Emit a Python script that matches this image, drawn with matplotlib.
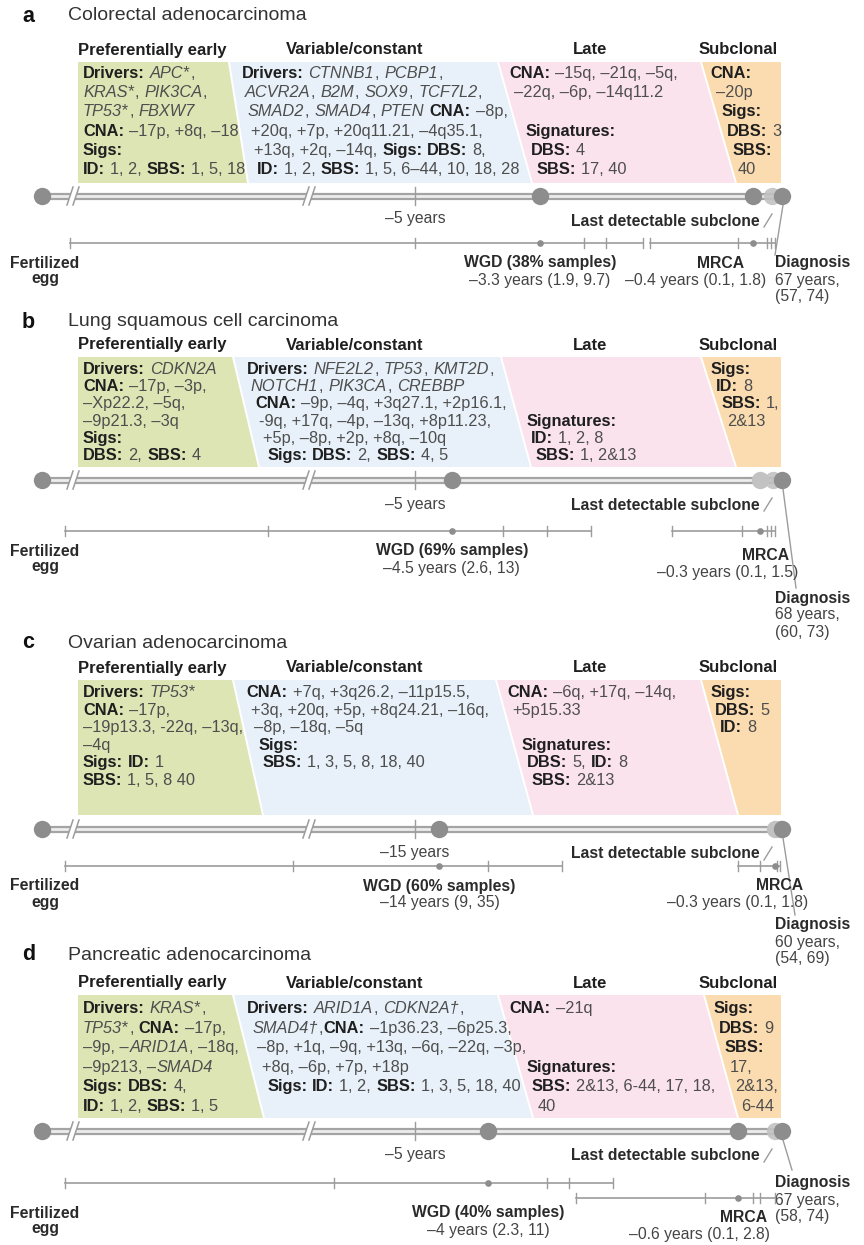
import re
import numpy as np
import matplotlib
matplotlib.use("Agg")
import matplotlib.pyplot as plt
from matplotlib.font_manager import FontProperties
from matplotlib.patches import Polygon

# ---------------- data ----------------
panel_letters = ["a", "b", "c", "d"]
cancer_types = ["Colorectal adenocarcinoma", "Lung squamous cell carcinoma",
                "Ovarian adenocarcinoma", "Pancreatic adenocarcinoma"]
phase_names = ["Preferentially early", "Variable/constant", "Late", "Subclonal"]

# **bold**, _italic_, rest regular
early_lines = [
    ["**Drivers:** _APC*_,", "_KRAS*_, _PIK3CA_,", "_TP53*_, _FBXW7_",
     "**CNA:** –17p, +8q, –18", "**Sigs:**", "**ID:** 1, 2, **SBS:** 1, 5, 18"],
    ["**Drivers:** _CDKN2A_", "**CNA:** –17p, –3p,", "–Xp22.2, –5q,",
     "–9p21.3, –3q", "**Sigs:**", "**DBS:** 2, **SBS:** 4"],
    ["**Drivers:** _TP53*_", "**CNA:** –17p,", "–19p13.3, -22q, –13q,",
     "–4q", "**Sigs:** **ID:** 1", "**SBS:** 1, 5, 8 40"],
    ["**Drivers:** _KRAS*_,", "_TP53*_, **CNA:** –17p,", "–9p, –_ARID1A_, –18q,",
     "–9p213, –_SMAD4_", "**Sigs:** **DBS:** 4,", "**ID:** 1, 2, **SBS:** 1, 5"],
]
variable_lines = [
    ["**Drivers:** _CTNNB1_, _PCBP1_,", "_ACVR2A_, _B2M_, _SOX9_, _TCF7L2_,",
     "_SMAD2_, _SMAD4_, _PTEN_ **CNA:** –8p,", "+20q, +7p, +20q11.21, –4q35.1,",
     "+13q, +2q, –14q, **Sigs:** **DBS:** 8,", "**ID:** 1, 2, **SBS:** 1, 5, 6–44, 10, 18, 28"],
    ["**Drivers:** _NFE2L2_, _TP53_, _KMT2D_,", "_NOTCH1_, _PIK3CA_, _CREBBP_",
     "**CNA:** –9p, –4q, +3q27.1, +2p16.1,", "-9q, +17q, –4p, –13q, +8p11.23,",
     "+5p, –8p, +2p, +8q, –10q", "**Sigs:** **DBS:** 2, **SBS:** 4, 5"],
    ["**CNA:** +7q, +3q26.2, –11p15.5,", "+3q, +20q, +5p, +8q24.21, –16q,",
     "–8p, –18q, –5q", "**Sigs:**", "**SBS:** 1, 3, 5, 8, 18, 40"],
    ["**Drivers:** _ARID1A_, _CDKN2A†_,", "_SMAD4†_,**CNA:** –1p36.23, –6p25.3,",
     "–8p, +1q, –9q, +13q, –6q, –22q, –3p,", "+8q, –6p, +7p, +18p",
     "**Sigs:** **ID:** 1, 2, **SBS:** 1, 3, 5, 18, 40"],
]
late_lines = [
    ["**CNA:** –15q, –21q, –5q,", "–22q, –6p, –14q11.2", "",
     "**Signatures:**", "**DBS:** 4", "**SBS:** 17, 40"],
    ["", "", "", "**Signatures:**", "**ID:** 1, 2, 8", "**SBS:** 1, 2&13"],
    ["**CNA:** –6q, +17q, –14q,", "+5p15.33", "",
     "**Signatures:**", "**DBS:** 5, **ID:** 8", "**SBS:** 2&13"],
    ["**CNA:** –21q", "", "", "**Signatures:**", "**SBS:** 2&13, 6-44, 17, 18,", "40"],
]
subclonal_lines = [
    ["**CNA:**", "–20p", "**Sigs:**", "**DBS:** 3", "**SBS:**", "40"],
    ["**Sigs:**", "**ID:** 8", "**SBS:** 1,", "2&13"],
    ["**Sigs:**", "**DBS:** 5", "**ID:** 8"],
    ["**Sigs:**", "**DBS:** 9", "**SBS:**", "17,", "2&13,", "6-44"],
]

ref_years = [5, 5, 15, 5]                 # labelled tick on the timeline
wgd_pct = [38, 69, 60, 40]
wgd_median = [3.3, 4.5, 14, 4]            # years before diagnosis
wgd_ci = [(1.9, 9.7), (2.6, 13), (9, 35), (2.3, 11)]
wgd_ticks = [[5.0, 2.7, 2.4], [7.0, 3.8, 3.2], [20, 12], [6.1, 3.2, 2.9]]
mrca_median = [0.4, 0.3, 0.3, 0.6]
mrca_ci = [(0.1, 1.8), (0.1, 1.5), (0.1, 1.8), (0.1, 2.8)]
mrca_ticks = [[0.6, 0.2, 0.15], [0.55, 0.2, 0.15], [0.9, 0.2], [1.05, 0.4, 0.3]]
subclone_years = [0.13, 0.12, 0.08, 0.1]
diag_age = [67, 68, 60, 67]
diag_ci = [(57, 74), (60, 73), (54, 69), (58, 74)]

# ---------------- layout (pixels) ----------------
W, H = 864, 1245
title_y = [16, 322, 643, 955]
head_y = [50, 345, 668, 983]
box_top = [62, 357, 680, 995]
box_bot = [183, 467, 815, 1118]
line_first = [73, 369, 692, 1008]
line_last = [169, 455, 780, 1106]
borders = [  # slanted borders between phase boxes: (x at top, x at bottom)
    [(228, 247), (497, 531), (700, 735)],
    [(232, 258), (500, 530), (700, 735)],
    [(232, 262), (495, 532), (700, 737)],
    [(232, 263), (497, 532), (703, 737)],
]
box_left, box_right = 78, 781
head_x = [152, 355, 590, 738]
text_pad = [5, 12, 9, 7]
box_colors = ["#dee5b5", "#e8f1f9", "#fbe3ed", "#fbdcb1"]

time_y = [196, 480, 829, 1131]
ticklab_y = [219, 504, 853, 1155]
wgd_bar_y = [243, 531, 866, 1183]
mrca_bar_y = [243, 531, 866, 1198]
lab_y = [263, 551, 886, 1213]
mrca_lab_y = [263, 555, 886, 1218]
mrca_r1 = [744, 789, 803, 767]
mrca_r2 = [766, 798, 808, 770]
diag_lab_y = [263, 598, 925, 1183]
diag_x = 775
diag_ptr_end = [(775, 255), (796, 588), (795, 915), (792, 1170)]
x_egg, x_diag, x_ref, x_bar_min = 42, 782, 415, 65
break_x = [70, 306]

BODY = 11.8
fonts = {
    "bold": FontProperties(family="Liberation Sans", weight="bold", size=BODY),
    "normal": FontProperties(family="Liberation Sans", size=BODY),
    "italic": FontProperties(family="Liberation Sans", style="italic", size=BODY),
}
colors = {"bold": "#1f1f1f", "normal": "#4e4e4e", "italic": "#4e4e4e"}
HEAD = FontProperties(family="Liberation Sans", weight="bold", size=12)
LAB = FontProperties(family="Liberation Sans", weight="bold", size=11.3)
VAL = FontProperties(family="Liberation Sans", size=11.3)
GRAY, DOT, LIGHT = "#9c9c9c", "#8d8d8d", "#c2c2c2"

TOKEN = re.compile(r"(\*\*.+?\*\*|_[^_]+_)")


def parse(line):
    out = []
    for part in TOKEN.split(line):
        if not part:
            continue
        if part.startswith("**") and part.endswith("**") and len(part) > 4:
            out.append((part[2:-2], "bold"))
        elif part.startswith("_") and part.endswith("_") and len(part) > 2:
            out.append((part[1:-1], "italic"))
        else:
            out.append((part, "normal"))
    return out


fig = plt.figure(figsize=(W / 100, H / 100), dpi=100)
ax = fig.add_axes([0, 0, 1, 1])
ax.set_xlim(0, W)
ax.set_ylim(H, 0)
ax.axis("off")
renderer = fig.canvas.get_renderer()


def tw(s, fp):
    return renderer.get_text_width_height_descent(s, fp, ismath=False)[0]


space_w = {k: tw("a a", fp) - tw("aa", fp) for k, fp in fonts.items()}


def rich(x, y, line):
    for text, style in parse(line):
        core = text.strip(" ")
        if not core:
            x += len(text) * space_w[style]
            continue
        x += (len(text) - len(text.lstrip(" "))) * space_w[style]
        ax.text(x, y, core, fontproperties=fonts[style], color=colors[style],
                ha="left", va="baseline")
        x += tw(core, fonts[style]) + 0.6
        x += (len(text) - len(text.rstrip(" "))) * space_w[style]


def edge(b, y, top, bot):
    return b[0] + (b[1] - b[0]) * (y - top) / (bot - top)


def yrs(v):
    return f"{v:g}"


for p in range(4):
    top, bot = box_top[p], box_bot[p]
    ax.text(22, title_y[p], panel_letters[p], fontsize=15.5, fontweight="bold",
            family="Liberation Sans", va="center", color="#111111")
    ax.text(68, title_y[p], cancer_types[p], fontsize=14, family="Liberation Sans",
            va="center", color="#333333")
    for hx, name in zip(head_x, phase_names):
        ax.text(hx, head_y[p], name, ha="center", va="center", fontproperties=HEAD,
                color="#1f1f1f")

    # phase boxes
    xs = [(box_left, box_left)] + borders[p] + [(box_right, box_right)]
    for i, col in enumerate(box_colors):
        l, r = xs[i], xs[i + 1]
        g = 0 if i == 0 else 2
        ax.add_patch(Polygon([(l[0] + g, top), (r[0], top), (r[1], bot), (l[1] + g, bot)],
                             closed=True, fc=col, ec="none", zorder=0))
    slots = np.linspace(line_first[p], line_last[p], 6)
    groups = [early_lines[p], variable_lines[p], late_lines[p], subclonal_lines[p]]
    for i, lines in enumerate(groups):
        for k, line in enumerate(lines):
            if not line:
                continue
            y = slots[k]
            x0 = box_left + text_pad[0] if i == 0 else edge(xs[i], y, top, bot) + text_pad[i]
            rich(x0, y + 5, line)

    # main timeline
    ty = time_y[p]
    ax.plot([x_egg, x_diag], [ty, ty], color="#a4a4a4", lw=5.2, solid_capstyle="butt", zorder=1)
    ax.plot([x_egg, x_diag], [ty, ty], color="#ededed", lw=2.0, zorder=1.1)
    for bx in break_x:
        ax.add_patch(Polygon([(bx - 3, ty + 9), (bx + 3, ty - 9), (bx + 9, ty - 9), (bx + 3, ty + 9)],
                             fc="white", ec="none", zorder=1.5))
        ax.plot([bx - 3, bx + 3], [ty + 9, ty - 9], color=GRAY, lw=1.1, zorder=1.6)
        ax.plot([bx + 3, bx + 9], [ty + 9, ty - 9], color=GRAY, lw=1.1, zorder=1.6)
    ax.plot(x_egg, ty, "o", ms=12.5, color=DOT, mec="none", zorder=3)

    # years-before-diagnosis axes for this panel
    kpx = (x_diag - x_ref) / ref_years[p]
    tax = fig.add_axes([0, 0, 1, 1])
    tax.set_xlim(-x_diag / kpx, (W - x_diag) / kpx)
    tax.set_ylim(H, 0)
    tax.axis("off")
    xmin = (x_bar_min - x_diag) / kpx

    r = ref_years[p]
    tax.plot([-r, -r], [ty - 9, ty + 9], color=GRAY, lw=1.0, zorder=2)
    tax.text(-r, ticklab_y[p], f"–{r} years", ha="center", va="center",
             fontproperties=VAL, color="#444444")

    tax.plot(-wgd_median[p], ty, "o", ms=12.5, color=DOT, mec="none", zorder=3)
    mcol = DOT if p in (0, 3) else LIGHT
    tax.plot(-mrca_median[p], ty, "o", ms=12.5, color=mcol, mec="none", zorder=3)
    tax.plot(-subclone_years[p], ty, "o", ms=12.5, color=LIGHT, mec="none", alpha=0.9, zorder=3)
    tax.plot(0, ty, "o", ms=12.5, color=DOT, mec="none", zorder=3)

    def bar(y, med, ci, ticks):
        left = max(-ci[1], xmin)
        tax.plot([left, -ci[0]], [y, y], color=GRAY, lw=1.2)
        for t in [left, -ci[0]] + [-v for v in ticks]:
            tax.plot([t, t], [y - 5, y + 5], color=GRAY, lw=1.0)
        tax.plot(-med, y, "o", ms=4.8, color=DOT, mec="none")

    bar(wgd_bar_y[p], wgd_median[p], wgd_ci[p], wgd_ticks[p])
    bar(mrca_bar_y[p], mrca_median[p], mrca_ci[p], mrca_ticks[p])

    # labels
    ly = lab_y[p]
    ax.text(x_egg + 3, ly, "Fertilized", ha="center", va="center", fontproperties=LAB, color="#2a2a2a")
    ax.text(x_egg + 3, ly + 16, "egg", ha="center", va="center", fontproperties=LAB, color="#2a2a2a")
    lo, hi = wgd_ci[p]
    tax.text(-wgd_median[p], ly, f"WGD ({wgd_pct[p]}% samples)", ha="center", va="center",
             fontproperties=LAB, color="#2a2a2a")
    tax.text(-wgd_median[p], ly + 17, f"–{yrs(wgd_median[p])} years ({yrs(lo)}, {yrs(hi)})",
             ha="center", va="center", fontproperties=VAL, color="#444444")
    lo, hi = mrca_ci[p]
    my = mrca_lab_y[p]
    ax.text(mrca_r1[p], my, "MRCA", ha="right", va="center", fontproperties=LAB, color="#2a2a2a")
    ax.text(mrca_r2[p], my + 17, f"–{yrs(mrca_median[p])} years ({yrs(lo)}, {yrs(hi)})",
            ha="right", va="center", fontproperties=VAL, color="#444444")
    dy = diag_lab_y[p]
    lo, hi = diag_ci[p]
    ax.text(diag_x, dy, "Diagnosis", ha="left", va="center", fontproperties=LAB, color="#2a2a2a")
    ax.text(diag_x, dy + 17, f"{diag_age[p]} years,", ha="left", va="center",
            fontproperties=VAL, color="#444444")
    ax.text(diag_x, dy + 34, f"({lo}, {hi})", ha="left", va="center",
            fontproperties=VAL, color="#444444")
    ex, ey = diag_ptr_end[p]
    ax.plot([x_diag + 1, ex], [ty + 9, ey], color=GRAY, lw=1.0)

    sy = ty + 25
    ax.text(760, sy, "Last detectable subclone", ha="right", va="center",
            fontproperties=LAB, color="#2a2a2a")
    ax.plot([764, 772], [sy + 6, sy - 7], color=GRAY, lw=1.0)

fig.savefig("out.png", dpi=100, facecolor="white")
